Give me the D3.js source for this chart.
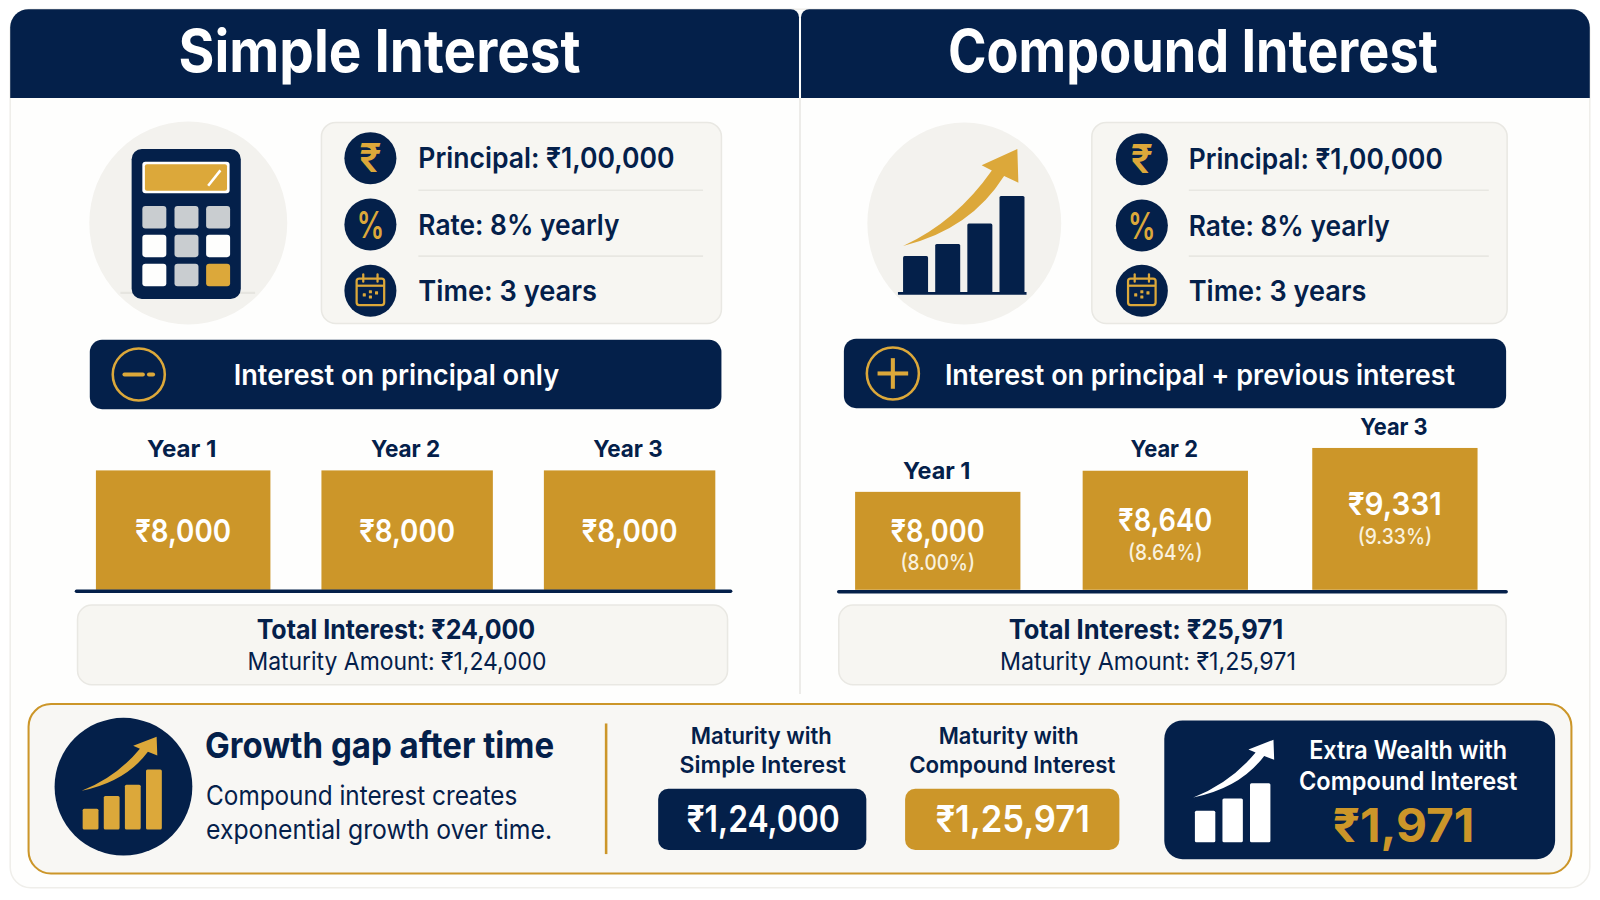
<!DOCTYPE html>
<html>
<head>
<meta charset="utf-8" />
<script src="https://d3js.org/d3.v7.min.js"></script>
<style>
  html, body { margin: 0; padding: 0; background: #ffffff; }
  svg { display: block; }
  text { font-family: "Inter", "Noto Sans", sans-serif; }
</style>
</head>
<body>
<script>
// values
const years = ["Year 1", "Year 2", "Year 3"];
const simpleValues = [8000, 8000, 8000];
const simpleLabels = ["₹8,000", "₹8,000", "₹8,000"];
const compoundValues = [8000, 8640, 9331];
const compoundLabels = ["₹8,000", "₹8,640", "₹9,331"];
const compoundPct = ["(8.00%)", "(8.64%)", "(9.33%)"];
const titles = ["Simple Interest", "Compound Interest"];
const infoLines = ["Principal: ₹1,00,000", "Rate: 8% yearly", "Time: 3 years"];
const rules = ["Interest on principal only", "Interest on principal + previous interest"];
const totals = ["Total Interest: ₹24,000", "Total Interest: ₹25,971"];
const maturities = ["Maturity Amount: ₹1,24,000", "Maturity Amount: ₹1,25,971"];
const iconBars4 = [36, 48, 68, 95];
const iconBars3 = [31, 43, 58];

const navy = "#04204a", gold = "#cc9629", goldLight = "#dca83a";
const panel = "#f7f6f2", panelLine = "#e9e8e3", grey = "#c9cdd0", paper = "#fefefd";

// drawn in the 1568x882 space of the reference
const svg = d3.select("body").append("svg")
  .attr("width", 1600).attr("height", 900)
  .attr("viewBox", "0 0 1568 882");

function txt(x, y, s, size, weight, color, w, anchor) {
  const t = svg.append("text")
    .attr("x", x).attr("y", y)
    .attr("font-size", size).attr("font-weight", weight)
    .attr("fill", color).attr("text-anchor", anchor || "middle")
    .text(s);
  if (w) t.attr("textLength", w).attr("lengthAdjust", "spacingAndGlyphs");
  return t;
}

function box(x, y, w, h, r, fill, stroke, sw) {
  return svg.append("rect")
    .attr("x", x).attr("y", y).attr("width", w).attr("height", h).attr("rx", r)
    .attr("fill", fill).attr("stroke", stroke || "none").attr("stroke-width", sw || 0);
}

function circle(cx, cy, r, fill, stroke, sw) {
  return svg.append("circle")
    .attr("cx", cx).attr("cy", cy).attr("r", r)
    .attr("fill", fill).attr("stroke", stroke || "none").attr("stroke-width", sw || 0);
}

function ellipse(cx, cy, rx, ry, fill) {
  return svg.append("ellipse")
    .attr("cx", cx).attr("cy", cy).attr("rx", rx).attr("ry", ry).attr("fill", fill);
}

function line(x1, y1, x2, y2, color, sw, cap) {
  return svg.append("line")
    .attr("x1", x1).attr("y1", y1).attr("x2", x2).attr("y2", y2)
    .attr("stroke", color).attr("stroke-width", sw).attr("stroke-linecap", cap || "butt");
}

function arrow(x0, y0, x1, y1, color) {
  svg.append("path")
    .attr("d", "M0,0 Q52,-24 87,-74 L77,-79 L112,-95 L113,-62 L99,-68.5 Q66,-16 0,0 Z")
    .attr("fill", color)
    .attr("transform", `translate(${x0},${y0}) scale(${(x1 - x0) / 112},${(y0 - y1) / 95})`);
}

// little bar icons, all from the same helper
function iconBars(vals, left, barW, gap, bottom, k, color) {
  svg.append("g").selectAll("rect").data(vals).join("rect")
    .attr("x", (d, i) => left + i * (barW + gap))
    .attr("y", d => bottom - d * k)
    .attr("width", barW)
    .attr("height", d => d * k)
    .attr("rx", 1.5)
    .attr("fill", color);
}

function calendar(cx, cy) {
  box(cx - 13.5, cy - 12, 27, 26, 2.5, "none", goldLight, 2.2);
  line(cx - 13.5, cy - 5, cx + 13.5, cy - 5, goldLight, 2.2);
  line(cx - 7, cy - 16, cx - 7, cy - 9, goldLight, 2.2, "round");
  line(cx + 7, cy - 16, cx + 7, cy - 9, goldLight, 2.2, "round");
  [[-6, 4], [0, 1], [0, 6], [6, 2]].forEach(p => box(cx + p[0] - 1.5, cy + p[1] - 1.5, 3, 3, 0.5, goldLight));
}

// outer card and headers
box(10, 9, 1548, 861, 20, paper, "#efeeea", 1.5);
function header(x, w, corner) {
  const y = 9, h = 87, r = 18, s = 8;
  const d = corner === "left"
    ? `M${x},${y + h} V${y + r} A${r},${r} 0 0 1 ${x + r},${y} H${x + w - s} A${s},${s} 0 0 1 ${x + w},${y + s} V${y + h} Z`
    : `M${x},${y + h} V${y + s} A${s},${s} 0 0 1 ${x + s},${y} H${x + w - r} A${r},${r} 0 0 1 ${x + w},${y + r} V${y + h} Z`;
  svg.append("path").attr("d", d).attr("fill", navy);
}
header(10, 773, "left");
header(785, 773, "right");
txt(372, 71, titles[0], 58, 700, "#ffffff", 394);
txt(1169, 71, titles[1], 58, 700, "#ffffff", 480);
line(784, 96, 784, 680, "#e8e7e3", 1.5);

// illustrations
ellipse(184.5, 218.5, 97, 99.5, "#f3f2ee");
line(118, 287, 250, 287, "#e6e5e0", 2);
box(129, 146, 107, 147, 10, navy);
box(139.5, 158.5, 85.5, 31, 3, "#ffffff");
box(142, 161, 80.5, 26, 2, goldLight);
line(204, 182, 216, 167, "#ffffff", 2.5);
const keyX = [139.5, 171, 202], keyY = [202, 230, 258.5];
const keyCol = [[grey, grey, grey], [paper, grey, paper], [paper, grey, goldLight]];
keyY.forEach((y, r) => keyX.forEach((x, c) => box(x, y, 23.5, 22, 3, keyCol[r][c])));

ellipse(945, 219, 95, 99, "#f3f2ee");
line(880, 287.5, 1006, 287.5, navy, 2.5);
iconBars(iconBars4, 885, 24.5, 7, 287, 1, navy);
arrow(885, 241, 997, 146, goldLight);

// info panels
function infoPanel(px, pw, iconX, textX, sepEnd, rowY, widths) {
  box(px, 120, pw, 197, 14, panel, panelLine, 1.5);
  line(textX, 186.5, sepEnd, 186.5, "#e8e7e2", 1.5);
  line(textX, 251, sepEnd, 251, "#e8e7e2", 1.5);
  rowY.forEach((y, i) => {
    circle(iconX, y, 25.5, navy);
    txt(textX, y + 10, infoLines[i], 28, 600, navy, widths[i], "start");
  });
  txt(iconX, rowY[0] + 13.5, "₹", 39, 600, goldLight);
  txt(iconX, rowY[1] + 13, "%", 36, 600, goldLight, 27);
  calendar(iconX, rowY[2]);
}
infoPanel(315, 392, 363, 410, 689, [155, 220, 285], [251, 197, 175]);
infoPanel(1070, 407, 1119, 1165, 1459, [156, 221, 285], [249, 197, 174]);

// rule banners
box(88, 333, 619, 68, 12, navy);
circle(136, 367, 25.5, "none", goldLight, 2.5);
line(122, 367, 140, 367, goldLight, 4, "round");
line(146, 367, 150, 367, goldLight, 4, "round");
txt(229, 377, rules[0], 28, 600, "#ffffff", 319, "start");

box(827, 332, 649, 68, 12, navy);
circle(875, 366, 25.5, "none", goldLight, 2.5);
line(860, 366, 890, 366, goldLight, 4);
line(875, 351, 875, 381, goldLight, 4);
txt(926, 377, rules[1], 28, 600, "#ffffff", 500, "start");

// simple interest bars
const xLeft = d3.scaleOrdinal().domain(years).range([94, 315, 533]);
const leftW = [171, 168, 168];
const yLeft = d3.scaleLinear().domain([0, 8000]).range([578, 461]);
svg.append("g").selectAll("rect").data(simpleValues).join("rect")
  .attr("x", (d, i) => xLeft(years[i]))
  .attr("y", d => yLeft(d))
  .attr("width", (d, i) => leftW[i])
  .attr("height", d => yLeft(0) - yLeft(d))
  .attr("fill", gold);
simpleValues.forEach((d, i) => {
  const cx = xLeft(years[i]) + leftW[i] / 2;
  txt(cx - 1.5, yLeft(d) - 13, years[i], 23, 700, navy, 68);
  txt(cx, (yLeft(d) + yLeft(0)) / 2 + 12, simpleLabels[i], 31, 600, "#ffffff", 94);
});
line(75, 579.5, 716, 579.5, navy, 3.5, "round");

// compound interest bars, the baseline does not start at zero
const xRight = d3.scaleOrdinal().domain(years).range([838, 1061, 1286]);
const rightW = 162;
const yRight = d3.scaleLinear().domain([5030, 9331]).range([578, 439]);
const labelDy = [49, 59, 66];
svg.append("g").selectAll("rect").data(compoundValues).join("rect")
  .attr("x", (d, i) => xRight(years[i]))
  .attr("y", d => yRight(d))
  .attr("width", rightW)
  .attr("height", d => yRight(yRight.domain()[0]) - yRight(d))
  .attr("fill", gold);
compoundValues.forEach((d, i) => {
  const cx = xRight(years[i]) + rightW / 2;
  txt(cx - 1, yRight(d) - 13, years[i], 23, 700, navy, 66);
  txt(cx, yRight(d) + labelDy[i], compoundLabels[i], 31, 600, "#ffffff", 92);
  txt(cx, yRight(d) + labelDy[i] + 28, compoundPct[i], 21, 500, "#f9f1de", 73);
});
line(822, 580, 1476, 580, navy, 3.5, "round");

// totals
box(76, 593, 637, 78, 14, panel, panelLine, 1.5);
txt(388, 626, totals[0], 26, 700, navy, 273);
txt(389, 657, maturities[0], 24, 400, navy, 293);
box(822, 593, 654, 78, 14, panel, panelLine, 1.5);
txt(1123, 626, totals[1], 26, 700, navy, 269);
txt(1125, 657, maturities[1], 24, 400, navy, 290);

// growth gap strip
box(28, 690, 1512, 166, 22, "#f8f7f4", gold, 2);
circle(121, 771, 67.5, navy);
iconBars([20.5, 33, 44, 59], 81, 15.5, 5.2, 813, 1, goldLight);
arrow(80, 775, 153.5, 722, goldLight);
txt(201, 743, "Growth gap after time", 35, 700, navy, 342, "start");
txt(202, 789, "Compound interest creates", 26, 400, navy, 305, "start");
txt(202, 822, "exponential growth over time.", 26, 400, navy, 339, "start");
line(594, 709, 594, 837, gold, 2.5);

txt(746, 729, "Maturity with", 23, 600, navy, 138);
txt(747.5, 758, "Simple Interest", 23, 600, navy, 163);
box(645, 773, 204, 60, 10, navy);
txt(748, 815, "₹1,24,000", 36, 600, "#ffffff", 150);

txt(988.5, 729, "Maturity with", 23, 600, navy, 137);
txt(992, 758, "Compound Interest", 23, 600, navy, 202);
box(887, 773, 210, 60, 10, gold);
txt(992.5, 815, "₹1,25,971", 36, 600, "#ffffff", 151);

box(1141, 706, 383, 136, 18, navy);
iconBars(iconBars3, 1171, 20, 7, 825.5, 1, "#ffffff");
arrow(1169.5, 781.5, 1248, 725, "#ffffff");
txt(1380, 744, "Extra Wealth with", 25, 600, "#ffffff", 194);
txt(1380, 774, "Compound Interest", 25, 600, "#ffffff", 214);
txt(1375.5, 825, "₹1,971", 46, 700, gold, 139);
</script>
</body>
</html>
